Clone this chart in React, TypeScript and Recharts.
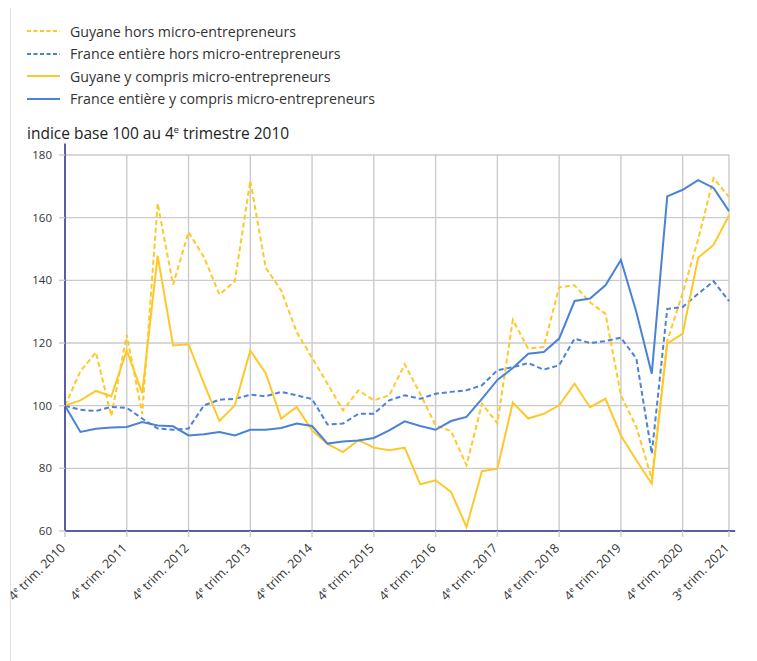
import React from "react";
import { LineChart, Line, XAxis, YAxis, CartesianGrid, ReferenceLine } from "recharts";

const quarters = [
  "T4 2010",
  "T1 2011", "T2 2011", "T3 2011", "T4 2011",
  "T1 2012", "T2 2012", "T3 2012", "T4 2012",
  "T1 2013", "T2 2013", "T3 2013", "T4 2013",
  "T1 2014", "T2 2014", "T3 2014", "T4 2014",
  "T1 2015", "T2 2015", "T3 2015", "T4 2015",
  "T1 2016", "T2 2016", "T3 2016", "T4 2016",
  "T1 2017", "T2 2017", "T3 2017", "T4 2017",
  "T1 2018", "T2 2018", "T3 2018", "T4 2018",
  "T1 2019", "T2 2019", "T3 2019", "T4 2019",
  "T1 2020", "T2 2020", "T3 2020", "T4 2020",
  "T1 2021", "T2 2021", "T3 2021",
];

const guyaneHors = [
  100, 111, 117, 96.7, 122.6, 97.4, 164.6, 138.6, 155.4, 147.4, 135.5, 139.7, 171.8,
  144, 136.8, 123.5, 115.3, 107, 98.5, 104.9, 101.7, 103.3, 113.2, 103.8, 93.7, 91.9,
  81, 100.6, 94.4, 127.4, 118.2, 118.7, 137.8, 138.4, 133, 129.3, 103.3, 93.2, 76.7,
  120.6, 136, 153, 172.6, 166.6,
];

const franceHors = [
  100, 98.7, 98.3, 99.6, 99.3, 95.9, 92.7, 92.3, 92.7, 100.1, 101.9, 102.2, 103.5,
  103, 104.4, 103.3, 102.1, 94, 94.3, 97.4, 97.4, 101.7, 103.3, 102.2, 103.8, 104.4,
  104.9, 106.5, 111.3, 112.3, 113.6, 111.5, 112.9, 121.4, 120, 120.6, 121.7, 115, 84.7,
  130.9, 131.5, 135.7, 139.7, 133.4,
];

const guyaneYCompris = [
  100, 101.7, 104.7, 103, 117.6, 104, 147.9, 119.2, 119.6, 107, 95.1, 100.1, 117.6,
  110.4, 95.9, 99.6, 92.1, 87.8, 85.2, 89, 86.6, 85.8, 86.6, 74.9, 76.2, 72.5, 61.3,
  79.1, 79.9, 101, 95.9, 97.4, 100.1, 107, 99.5, 102.2, 90.5, 82.6, 75.1, 119.8, 123,
  147.2, 151.3, 160.7,
];

const franceYCompris = [
  100, 91.6, 92.6, 93, 93.2, 94.8, 93.7, 93.4, 90.5, 90.9, 91.6, 90.5, 92.3, 92.3,
  92.9, 94.3, 93.5, 87.9, 88.6, 88.9, 89.7, 92.1, 95, 93.5, 92.3, 95.1, 96.4, 102.2,
  108.2, 112, 116.6, 117.1, 121.4, 133.4, 134.2, 138.4, 146.5, 129.9, 110.2, 166.8,
  168.9, 172, 169.5, 162.1,
];

const xTickQuarters = [
  "T4 2010", "T4 2011", "T4 2012", "T4 2013", "T4 2014", "T4 2015",
  "T4 2016", "T4 2017", "T4 2018", "T4 2019", "T4 2020", "T3 2021",
];
const xTickLabels = [
  "4e trim. 2010", "4e trim. 2011", "4e trim. 2012", "4e trim. 2013",
  "4e trim. 2014", "4e trim. 2015", "4e trim. 2016", "4e trim. 2017",
  "4e trim. 2018", "4e trim. 2019", "4e trim. 2020", "3e trim. 2021",
];
const yTicks = [60, 80, 100, 120, 140, 160, 180];

const seriesNames = [
  "Guyane hors micro-entrepreneurs",
  "France entière hors micro-entrepreneurs",
  "Guyane y compris micro-entrepreneurs",
  "France entière y compris micro-entrepreneurs",
];

const YELLOW = "#FFC82A";
const BLUE = "#4A82D6";
const AXIS = "#5A5DA6";
const FONT = "'Open Sans', 'Noto Sans', sans-serif";

const data = quarters.map((q, i) => ({
  idx: i,
  quarter: q,
  gh: guyaneHors[i],
  fh: franceHors[i],
  gy: guyaneYCompris[i],
  fy: franceYCompris[i],
}));

const tickIndices = xTickQuarters.map((q) => quarters.indexOf(q));

const legendItems = [
  { name: seriesNames[0], color: YELLOW, dashed: true },
  { name: seriesNames[1], color: BLUE, dashed: true },
  { name: seriesNames[2], color: YELLOW, dashed: false },
  { name: seriesNames[3], color: BLUE, dashed: false },
];

const XTick = (props: any) => {
  const { x, y, payload } = props;
  const pos = tickIndices.indexOf(payload.value);
  const label = pos >= 0 ? xTickLabels[pos] : "";
  const tx = x + 1;
  const ty = y + 10;
  return (
    <text
      x={tx}
      y={ty}
      textAnchor="end"
      transform={`rotate(-45 ${tx} ${ty})`}
      fontSize={12.5}
      fill="#333"
      fontFamily={FONT}
    >
      {label.charAt(0)}
      <tspan fontSize={7.5} dy={-4.5}>{label.charAt(1)}</tspan>
      <tspan dy={4.5}>{label.slice(2)}</tspan>
    </text>
  );
};

export default function App() {
  return (
    <div style={{ position: "relative", width: 757, height: 653 }}>
      <div
        style={{
          position: "absolute",
          left: 2,
          top: -4,
          width: 747,
          height: 657,
          boxSizing: "border-box",
          borderTop: "1px solid #e2e2e2",
          borderLeft: "1px solid #e2e2e2",
        }}
      />
      <div style={{ position: "absolute", left: -8, top: -8 }}>
        <LineChart
          width={757}
          height={661}
          data={data}
          margin={{ top: 155, right: 28, left: 0, bottom: 0 }}
        >
          <CartesianGrid stroke="#cbcbcb" strokeWidth={1.4} />
          <XAxis
            dataKey="idx"
            type="number"
            domain={[0, quarters.length - 1]}
            ticks={tickIndices}
            interval={0}
            height={130}
            axisLine={false}
            tickLine={{ stroke: "#cbcbcb", strokeWidth: 1.4 }}
            tickSize={6}
            tick={<XTick />}
          />
          <YAxis
            type="number"
            domain={[60, 180]}
            ticks={yTicks}
            width={65}
            axisLine={false}
            tickLine={{ stroke: "#cbcbcb", strokeWidth: 1.4 }}
            tickSize={6}
            tickMargin={7}
            tick={{ fontSize: 11.5, fill: "#333", fontFamily: FONT }}
          />
          <Line dataKey="gh" name={seriesNames[0]} stroke={YELLOW} strokeWidth={2} strokeDasharray="5 3" dot={false} isAnimationActive={false} />
          <Line dataKey="fh" name={seriesNames[1]} stroke={BLUE} strokeWidth={2} strokeDasharray="5 3" dot={false} isAnimationActive={false} />
          <Line dataKey="gy" name={seriesNames[2]} stroke={YELLOW} strokeWidth={2} dot={false} isAnimationActive={false} />
          <Line dataKey="fy" name={seriesNames[3]} stroke={BLUE} strokeWidth={2} dot={false} isAnimationActive={false} />
          <ReferenceLine
            segment={[{ x: 0, y: 60 }, { x: 43.4, y: 60 }]}
            stroke={AXIS}
            strokeWidth={2}
            ifOverflow="visible"
          />
          <ReferenceLine
            segment={[{ x: 0, y: 60 }, { x: 0, y: 183.7 }]}
            stroke={AXIS}
            strokeWidth={2}
            ifOverflow="visible"
          />
        </LineChart>
      </div>
      {legendItems.map((it, k) => (
        <div
          key={it.name}
          style={{
            position: "absolute",
            left: 19,
            top: 23 + k * 22.5 - 9,
            height: 18,
            display: "flex",
            alignItems: "center",
            fontFamily: FONT,
            fontSize: 14.2,
            color: "#333",
            whiteSpace: "nowrap",
          }}
        >
          <svg width={33} height={4} style={{ marginRight: 10 }}>
            <line
              x1={0}
              y1={2}
              x2={33}
              y2={2}
              stroke={it.color}
              strokeWidth={2}
              strokeDasharray={it.dashed ? "4 2.5" : undefined}
            />
          </svg>
          <span>{it.name}</span>
        </div>
      ))}
      <div
        style={{
          position: "absolute",
          left: 19,
          top: 114,
          fontFamily: FONT,
          fontSize: 15.5,
          color: "#222",
          whiteSpace: "nowrap",
        }}
      >
        indice base 100 au 4<sup style={{ fontSize: 9, verticalAlign: "6px", lineHeight: 0 }}>e</sup> trimestre 2010
      </div>
    </div>
  );
}
